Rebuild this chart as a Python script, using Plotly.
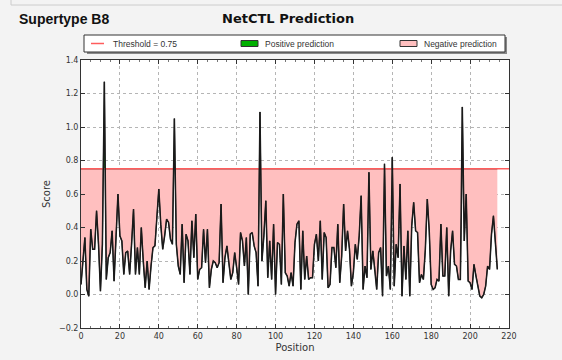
import plotly.graph_objects as go

threshold = 0.75
positions = list(range(215))
scores = [
    0.06, 0.20, 0.34, 0.03, -0.01, 0.39, 0.27, 0.27, 0.50, 0.30,
    0.02, 0.30, 1.27, 0.09, 0.22, 0.25, 0.38, 0.08, 0.40, 0.60,
    0.35, 0.32, 0.12, 0.25, 0.26, 0.12, 0.30, 0.51, 0.12, 0.28,
    0.12, 0.40, 0.20, 0.04, 0.20, 0.03, 0.17, 0.28, 0.29, 0.45,
    0.63, 0.42, 0.27, 0.35, 0.45, 0.43, 0.33, 0.30, 1.05, 0.30,
    0.17, 0.12, 0.42, 0.07, 0.36, 0.32, 0.12, 0.44, 0.22, 0.48,
    0.09, 0.15, 0.16, 0.39, 0.19, 0.39, 0.04, 0.15, 0.20, 0.19,
    0.16, 0.19, 0.54, 0.07, 0.22, 0.29, 0.19, 0.09, 0.13, 0.25,
    0.16, 0.06, 0.37, 0.32, 0.17, 0.34, 0.00, 0.36, 0.37, 0.29,
    0.25, 0.05, 1.09, 0.20, 0.35, 0.56, 0.10, 0.32, 0.09, 0.42,
    0.00, 0.31, 0.30, 0.06, 0.60, 0.13, 0.11, 0.05, 0.13, 0.05,
    0.31, 0.42, 0.44, 0.03, 0.38, 0.09, 0.23, 0.09, 0.10, 0.10,
    0.30, 0.36, 0.20, 0.44, 0.09, 0.37, 0.34, 0.04, 0.06, 0.28,
    0.28, 0.16, 0.42, 0.07, 0.23, 0.54, 0.26, 0.38, 0.27, 0.05,
    0.13, 0.30, 0.21, 0.35, 0.59, 0.03, 0.17, 0.10, 0.73, 0.15,
    0.26, 0.16, 0.03, 0.25, 0.28, -0.01, 0.78, 0.11, 0.17, 0.03,
    0.82, 0.05, 0.30, 0.22, 0.66, -0.01, 0.29, 0.09, 0.38, -0.01,
    0.41, 0.55, 0.38, 0.37, 0.07, 0.12, 0.09, 0.27, 0.57, 0.38,
    0.06, 0.03, 0.04, 0.09, 0.08, 0.42, 0.11, 0.11, 0.40, -0.01,
    0.26, 0.38, 0.18, 0.17, 0.09, 0.09, 1.12, 0.32, 0.60, 0.08,
    0.07, 0.03, 0.18, 0.11, 0.05, -0.01, -0.02, 0.00, 0.05, 0.17,
    0.15, 0.36, 0.47, 0.31, 0.15,
]
x_range = [0, 220]
y_range = [-0.2, 1.4]
legend_labels = ["Threshold = 0.75", "Positive prediction", "Negative prediction"]

RED = "#ff5c5c"
GREEN = "#00b000"
PINK = "#ffbfbf"

# augment with threshold crossings so fills follow the line exactly
xa, ya = [], []
for i in range(len(scores)):
    xa.append(positions[i]); ya.append(scores[i])
    if i < len(scores) - 1:
        y0, y1 = scores[i], scores[i + 1]
        if (y0 - threshold) * (y1 - threshold) < 0:
            xa.append(positions[i] + (threshold - y0) / (y1 - y0) * (positions[i + 1] - positions[i]))
            ya.append(threshold)
lower = [min(v, threshold) for v in ya]
upper = [max(v, threshold) for v in ya]
base = [threshold] * len(xa)

fig = go.Figure()
fig.add_trace(go.Scatter(x=xa, y=base, mode="lines", line=dict(width=0), hoverinfo="skip"))
fig.add_trace(go.Scatter(x=xa, y=lower, mode="lines", fill="tonexty", fillcolor=PINK,
                         line=dict(width=1, color="#333333"), name=legend_labels[2]))
fig.add_trace(go.Scatter(x=xa, y=base, mode="lines", line=dict(width=0), hoverinfo="skip"))
fig.add_trace(go.Scatter(x=xa, y=upper, mode="lines", fill="tonexty", fillcolor=GREEN,
                         line=dict(width=1, color="#333333"), name=legend_labels[1]))
fig.add_trace(go.Scatter(x=x_range, y=[threshold, threshold], mode="lines",
                         line=dict(color=RED, width=1.5), name=legend_labels[0]))
fig.add_trace(go.Scatter(x=positions, y=scores, mode="lines", line=dict(color="#1a1a1a", width=1.5)))

L, R, T, B = 81, 509, 60, 328
W, H = 562, 360
def px(xp): return (xp - L) / (R - L)
def py(yp): return (B - yp) / (B - T)

axis_common = dict(showline=True, linecolor="#333333", linewidth=1, mirror="ticks",
                   ticks="inside", ticklen=4, tickcolor="#333333", automargin=False,
                   showgrid=True, gridcolor="#b5b5b5", griddash="dot", gridwidth=1,
                   zeroline=False, tickfont=dict(family="DejaVu Sans", size=8, color="#333333"))
fig.update_xaxes(range=x_range, dtick=20, tick0=0, title=dict(text="Position", font=dict(family="DejaVu Sans", size=10, color="#333333"), standoff=4),
                 minor=dict(ticks="inside", ticklen=2, dtick=5, tickcolor="#777777", showgrid=False), **axis_common)
fig.update_yaxes(range=y_range, dtick=0.2, tick0=0, tickformat=".1f",
                 title=dict(text="Score", font=dict(family="DejaVu Sans", size=10, color="#333333"), standoff=6), **axis_common)

# hand-built legend (box, shadow, symbols and labels)
LY0, LY1 = 35, 52
LYC = (LY0 + LY1) / 2
shapes = [
    dict(type="rect", xref="paper", yref="paper", x0=px(87), x1=px(507), y0=py(LY1 + 2), y1=py(LY0 + 2),
         fillcolor="#888888", line=dict(width=0)),
    dict(type="rect", xref="paper", yref="paper", x0=px(84), x1=px(505), y0=py(LY1), y1=py(LY0),
         fillcolor="white", line=dict(width=1, color="#333333")),
    dict(type="line", xref="paper", yref="paper", x0=px(91), x1=px(104), y0=py(LYC), y1=py(LYC),
         line=dict(color=RED, width=1.5)),
    dict(type="rect", xref="paper", yref="paper", x0=px(241), x1=px(258), y0=py(LYC + 3), y1=py(LYC - 3),
         fillcolor=GREEN, line=dict(width=1, color="#333333")),
    dict(type="rect", xref="paper", yref="paper", x0=px(400), x1=px(417), y0=py(LYC + 3), y1=py(LYC - 3),
         fillcolor=PINK, line=dict(width=1, color="#333333")),
    dict(type="line", xref="paper", yref="paper", x0=px(11), x1=px(562), y0=py(5), y1=py(5),
         line=dict(color="#cccccc", width=1)),
    dict(type="line", xref="paper", yref="paper", x0=px(11), x1=px(11), y0=py(0), y1=py(5),
         line=dict(color="#cccccc", width=1)),
]
legend_font = dict(family="Liberation Sans", size=8.5, color="#333333")
annotations = [
    dict(text="<b>Supertype B8</b>", x=px(17), y=py(19), xref="paper", yref="paper",
         xanchor="left", yanchor="middle", showarrow=False,
         font=dict(family="Liberation Sans", size=14, color="#111111")),
    dict(text="<b>NetCTL Prediction</b>", x=px(288), y=py(19), xref="paper", yref="paper",
         xanchor="center", yanchor="middle", showarrow=False,
         font=dict(family="DejaVu Sans", size=13, color="#111111")),
]
for lx, label in zip([111, 263, 422], legend_labels):
    annotations.append(dict(text=label, x=px(lx), y=py(LYC), xref="paper", yref="paper",
                            xanchor="left", yanchor="middle", showarrow=False, font=legend_font))

fig.update_layout(
    width=W, height=H,
    margin=dict(l=L, r=W - R, t=T, b=H - B, pad=0, autoexpand=False),
    paper_bgcolor="#f3f3f3", plot_bgcolor="white",
    showlegend=False,
    annotations=annotations,
    shapes=shapes,
)

fig.write_html("out.html")
